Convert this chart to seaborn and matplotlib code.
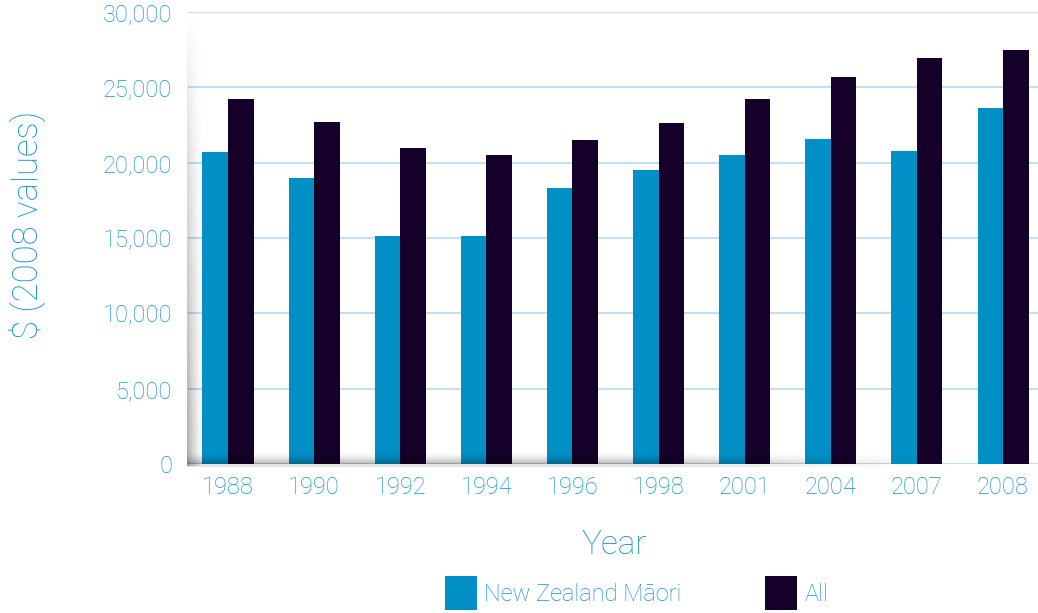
import numpy as np
import pandas as pd
import matplotlib
matplotlib.use("Agg")
import matplotlib.pyplot as plt
from matplotlib.ticker import StrMethodFormatter
import seaborn as sns

# Median income by year, in 2008 dollars
years = ["1988", "1990", "1992", "1994", "1996", "1998", "2001", "2004", "2007", "2008"]
maori = [20700, 19000, 15100, 15100, 18300, 19500, 20500, 21550, 20800, 23600]
all_people = [24200, 22700, 21000, 20500, 21500, 22600, 24200, 25700, 26950, 27500]
groups = ["New Zealand Māori", "All"]
y_ticks = [0, 5000, 10000, 15000, 20000, 25000, 30000]

BLUE = "#0090c5"
DARK = "#150029"
TEXT = "#1594cc"
GRID = "#c2e0ef"

df = pd.DataFrame({
    "Year": years * 2,
    "Group": [groups[0]] * len(years) + [groups[1]] * len(years),
    "Income": maori + all_people,
})

sns.set_theme(style="white")
plt.rcParams["font.family"] = ["Roboto", "DejaVu Sans"]
plt.rcParams["font.weight"] = "light"
plt.rcParams["axes.labelweight"] = "light"

W, H = 1038, 613
fig = plt.figure(figsize=(W / 100, H / 100), dpi=100)
# axes: x 188..1038 px, y 12..464 px (from top)
ax = fig.add_axes([188 / W, 1 - 464 / H, (1038 - 188) / W, (464 - 12) / H])
ax.patch.set_visible(False)

# soft grey "wall" and "floor" shading behind the plot
wall_w, wall_top, wall_bot = 17, 15, 466
ys = np.arange(wall_top, wall_bot)[:, None]
xs = np.arange(wall_w)[None, :]
s = ((wall_w - xs) / wall_w) ** 1.5
v = ((ys - wall_top) / (wall_bot - wall_top)) ** 0.8
wall = np.zeros((wall_bot - wall_top, wall_w, 4))
wall[..., 3] = 0.32 * s * v
fig.figimage(wall, xo=187, yo=H - wall_bot, zorder=0)

floor_top, floor_bot, floor_x0, floor_x1 = 451, 467, 187, 980
fy = np.arange(floor_top, floor_bot)[:, None]
fx = np.arange(floor_x0, floor_x1)[None, :]
t = np.clip((fy - floor_top) / (464 - floor_top), 0, 1) ** 1.6
t = np.where(fy >= 464, 0.35, t)
fade = np.clip((960 - fx) / (960 - 640), 0, 1)
floor = np.zeros((floor_bot - floor_top, floor_x1 - floor_x0, 4))
floor[..., 3] = 0.30 * t * fade
fig.figimage(floor, xo=floor_x0, yo=H - floor_bot, zorder=0)

sns.barplot(data=df, x="Year", y="Income", hue="Group", hue_order=groups,
            palette=[BLUE, DARK], width=0.593, saturation=1, ax=ax,
            edgecolor="none", linewidth=0)

ax.set_xlim(-0.4645, 9.406)
ax.set_ylim(0, 30000)
ax.set_yticks(y_ticks)
ax.yaxis.set_major_formatter(StrMethodFormatter("{x:,.0f}"))
ax.set_axisbelow(True)
ax.yaxis.grid(True, color=GRID, linewidth=1.5)
ax.xaxis.grid(False)
for sp in ax.spines.values():
    sp.set_visible(False)

ax.tick_params(axis="both", length=0, labelsize=17, labelcolor=TEXT)
ax.tick_params(axis="y", pad=11.5)
ax.tick_params(axis="x", pad=9)

ax.set_xlabel("Year", fontsize=24, color=TEXT, va="center")
ax.xaxis.set_label_coords(0.502, (464 - 545) / 452)
ax.set_ylabel("$ (2008 values)", fontsize=25, color=TEXT, va="center")
ax.yaxis.set_label_coords((27 - 188) / 850, (464 - 225) / 452)

sns.move_legend(ax, loc="upper left", bbox_to_anchor=(445 / W, 1 - 576 / H),
                bbox_transform=fig.transFigure, ncol=2, frameon=False,
                title=None, fontsize=17, labelcolor=TEXT,
                handlelength=1.36, handleheight=1.86, handletextpad=0.3,
                columnspacing=3.55, borderpad=0, borderaxespad=0)

fig.savefig("out.png", dpi=100)
